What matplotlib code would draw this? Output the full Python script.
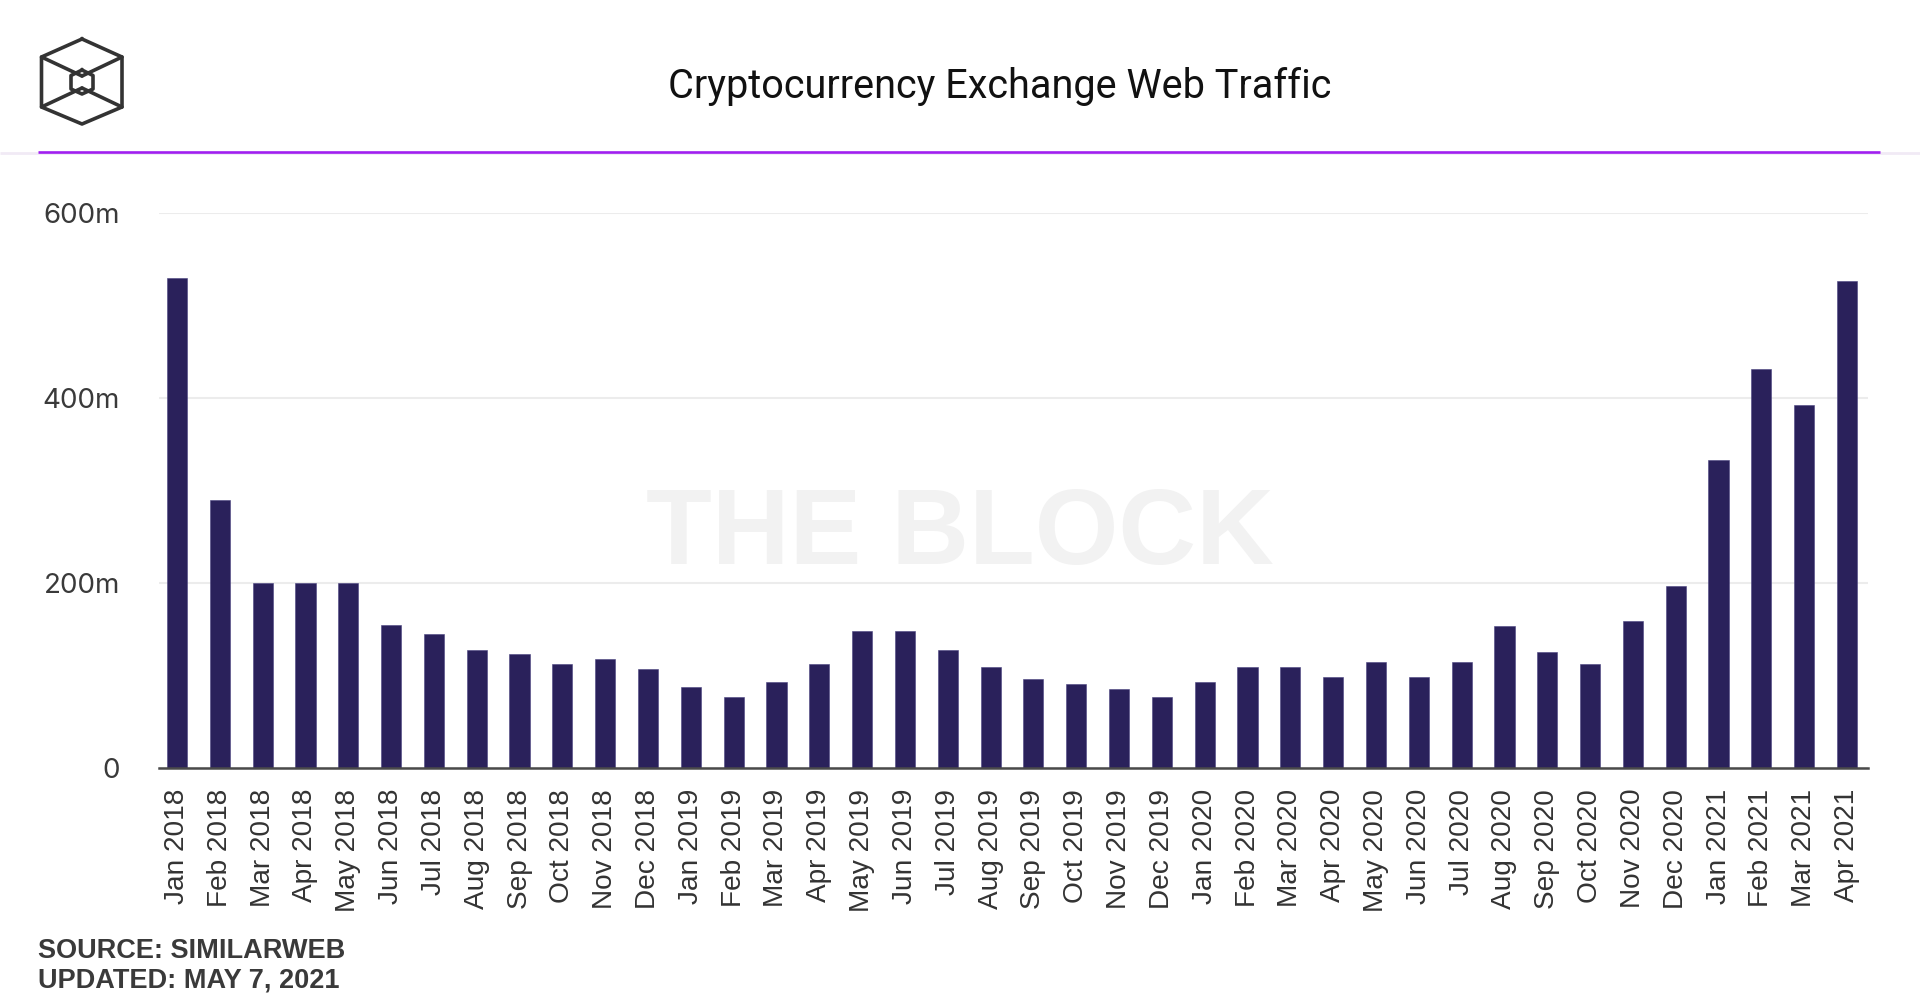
import matplotlib
matplotlib.use("Agg")
import matplotlib.pyplot as plt
from matplotlib.ticker import FuncFormatter

months = ["Jan 2018", "Feb 2018", "Mar 2018", "Apr 2018", "May 2018", "Jun 2018",
          "Jul 2018", "Aug 2018", "Sep 2018", "Oct 2018", "Nov 2018", "Dec 2018",
          "Jan 2019", "Feb 2019", "Mar 2019", "Apr 2019", "May 2019", "Jun 2019",
          "Jul 2019", "Aug 2019", "Sep 2019", "Oct 2019", "Nov 2019", "Dec 2019",
          "Jan 2020", "Feb 2020", "Mar 2020", "Apr 2020", "May 2020", "Jun 2020",
          "Jul 2020", "Aug 2020", "Sep 2020", "Oct 2020", "Nov 2020", "Dec 2020",
          "Jan 2021", "Feb 2021", "Mar 2021", "Apr 2021"]
traffic_m = [530, 290, 200, 200, 200, 155, 145, 128, 123.5, 112.5, 118, 107,
             88, 77, 93.5, 112.5, 148, 148, 128, 109.5, 96, 90.5, 85, 77,
             93.5, 109.5, 109.5, 98.5, 115, 98, 114.5, 153, 125, 112, 158.5, 196.5,
             333, 431, 392.5, 527]
y_ticks = [0, 200, 400, 600]

title = "Cryptocurrency Exchange Web Traffic"
source_lines = ["SOURCE: SIMILARWEB", "UPDATED: MAY 7, 2021"]

W, H = 1920, 1008
fig = plt.figure(figsize=(W / 100, H / 100), dpi=100, facecolor="white")

# overlay for header decorations (pixel coordinates)
ov = fig.add_axes([0, 0, 1, 1], zorder=0)
ov.set_xlim(0, W)
ov.set_ylim(H, 0)
ov.axis("off")

# header separator + purple rule
ov.plot([0, W], [153, 153], color="#f1eaf5", lw=2.0, solid_capstyle="butt")
ov.plot([38, 1880], [152, 152], color="#a01ff0", lw=1.9, solid_capstyle="butt")

# logo
lc = "#333333"
lw = 2.6
outer = [(82, 39), (122, 57), (122, 107), (82, 124), (41.5, 107), (41.5, 57), (82, 39)]
ov.plot([p[0] for p in outer], [p[1] for p in outer], color=lc, lw=lw, solid_joinstyle="round")
inner = [(82, 70), (93, 75.5), (93, 89), (82, 94), (71, 89), (71, 75.5), (82, 70)]
ov.plot([p[0] for p in inner], [p[1] for p in inner], color=lc, lw=lw, solid_joinstyle="round")
for a, b in [((41.5, 57), (82, 76)), ((122, 57), (82, 76)),
             ((41.5, 107), (82, 88)), ((122, 107), (82, 88))]:
    ov.plot([a[0], b[0]], [a[1], b[1]], color=lc, lw=lw, solid_capstyle="round")

fig.text(1000 / W, 1 - 87 / H, title, ha="center", va="center",
         fontsize=28.5, family=["Roboto", "DejaVu Sans"], color="#111111")

for i, s in enumerate(source_lines):
    fig.text(38 / W, 1 - (951 + i * 30) / H, s, ha="left", va="center",
             fontsize=19.5, fontweight="bold",
             family=["Liberation Sans Narrow", "Liberation Sans"], color="#3a3a3a")

# main axes
ax = fig.add_axes([159 / W, 1 - 768 / H, (1868 - 159) / W, (768 - 213) / H], zorder=1)
ax.set_facecolor("none")
x = list(range(len(months)))
ax.bar(x, traffic_m, width=0.47, color="#2a215b", edgecolor="#4a4380",
       linewidth=0.4, zorder=3)
ax.set_xlim(-0.42, 39.49)
ax.set_ylim(0, 600)
ax.set_yticks(y_ticks)
ax.yaxis.set_major_formatter(FuncFormatter(lambda v, p: "0" if v == 0 else f"{v:.0f}m"))
ax.set_xticks(x)
ax.set_xticklabels(months, rotation=90, fontsize=20.2,
                   family=["Liberation Sans", "DejaVu Sans"], color="#333333")
for lab in ax.get_yticklabels():
    lab.set_fontsize(20)
    lab.set_family(["Inter", "DejaVu Sans"])
    lab.set_color("#3a3a3a")
    lab.set_verticalalignment("center_baseline")
ax.tick_params(axis="y", length=0, pad=28)
ax.tick_params(axis="x", length=0, pad=15)
ax.grid(axis="y", color="#ececec", lw=1.5, zorder=1)
ax.set_axisbelow(True)
for s in ["top", "right", "left"]:
    ax.spines[s].set_visible(False)
ax.spines["bottom"].set_color("#4a4a4a")
ax.spines["bottom"].set_linewidth(1.8)
ax.spines["bottom"].set_zorder(4)

ax.text(0.4687, 0.418, "THE BLOCK", transform=ax.transAxes, ha="center", va="center",
        fontsize=77.5, fontweight="bold", family=["Liberation Sans", "DejaVu Sans"],
        color="#f2f2f2", zorder=0)

fig.savefig("out.png", dpi=100, facecolor="white")
